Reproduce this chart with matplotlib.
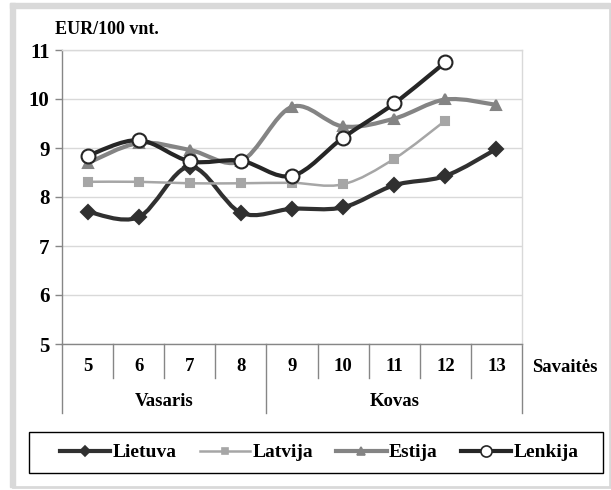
import numpy as np
import matplotlib.pyplot as plt
from matplotlib.path import Path
from matplotlib.patches import PathPatch, Rectangle
from matplotlib.lines import Line2D

plt.rcParams['font.family'] = 'Liberation Serif'
plt.rcParams['font.weight'] = 'bold'

# Duomenys
savaites = ['5', '6', '7', '8', '9', '10', '11', '12', '13']
menesiai = ['Vasaris', 'Kovas']
menesiu_centrai = [1.5, 6.0]
menesiu_ribos = [-0.5, 3.5, 8.5]

lietuva = [7.70, 7.59, 8.62, 7.68, 7.76, 7.79, 8.24, 8.43, 8.98]
latvija = [8.31, 8.31, 8.28, 8.28, 8.29, 8.26, 8.78, 9.56]
estija = [8.69, 9.10, 8.96, 8.73, 9.84, 9.44, 9.60, 9.99, 9.88]
lenkija = [8.84, 9.16, 8.73, 8.74, 8.43, 9.21, 9.91, 10.75]


def smooth_path(ys):
    # Excel-artige Glättung (Bezier, Catmull-Rom / 6)
    pts = np.column_stack([np.arange(len(ys)), ys]).astype(float)
    verts = [pts[0]]
    codes = [Path.MOVETO]
    n = len(pts)
    for i in range(n - 1):
        p0 = pts[i - 1] if i > 0 else pts[i]
        p1 = pts[i]
        p2 = pts[i + 1]
        p3 = pts[i + 2] if i + 2 < n else pts[i + 1]
        c1 = p1 + (p2 - p0) / 6.0
        c2 = p2 - (p3 - p1) / 6.0
        verts += [c1, c2, p2]
        codes += [Path.CURVE4] * 3
    return Path(verts, codes)


fig = plt.figure(figsize=(6.11, 4.90), dpi=100)

# Rahmen
fig.patches.append(Rectangle((13 / 611, 3 / 490), 597 / 611, 483 / 490,
                             transform=fig.transFigure, fill=False,
                             edgecolor='#d9d9d9', linewidth=2.0))
fig.patches.append(Rectangle((10 / 611, 3 / 490), 5 / 611, 484 / 490,
                             transform=fig.transFigure, color='#d9d9d9'))
fig.patches.append(Rectangle((10 / 611, 482 / 490), 600 / 611, 5 / 490,
                             transform=fig.transFigure, color='#d9d9d9'))
# Legendenrahmen
fig.patches.append(Rectangle((29 / 611, 17 / 490), 574 / 611, 41 / 490,
                             transform=fig.transFigure, fill=False,
                             edgecolor='black', linewidth=1.0))

ax = fig.add_axes([62 / 611, 146 / 490, 460 / 611, 294 / 490])

serien = [
    ('Lietuva', lietuva, '#303030', 3.0, 'D', 7, '#303030', '#303030'),
    ('Latvija', latvija, '#a6a6a6', 1.8, 's', 6, '#a6a6a6', '#a6a6a6'),
    ('Estija', estija, '#848484', 3.0, '^', 7, '#848484', '#848484'),
    ('Lenkija', lenkija, '#262626', 3.0, 'o', 10, 'white', '#262626'),
]

handles = []
for i, (name, ys, col, lw, mk, ms, mfc, mec) in enumerate(serien):
    ax.add_patch(PathPatch(smooth_path(ys), fill=False, edgecolor=col,
                           linewidth=lw, capstyle='round', joinstyle='round',
                           zorder=3 + i))
    ax.plot(range(len(ys)), ys, linestyle='none', marker=mk, markersize=ms,
            markerfacecolor=mfc, markeredgecolor=mec, markeredgewidth=1.5,
            zorder=3 + i)
    handles.append(Line2D([], [], color=col, linewidth=lw, marker=mk,
                          markersize=ms * 0.8, markerfacecolor=mfc,
                          markeredgecolor=mec, markeredgewidth=1.2, label=name))

ax.set_xlim(-0.5, 8.5)
ax.set_ylim(5, 11)
ax.set_yticks(range(5, 12))
ax.set_yticklabels([str(v) for v in range(5, 12)], fontsize=15, fontweight='bold')
ax.tick_params(axis='y', length=5, width=1, color='#868686', pad=4)
ax.set_xticks([])

ax.grid(axis='y', color='#d9d9d9', linewidth=1)
ax.set_axisbelow(True)
for side in ['top', 'right']:
    ax.spines[side].set_color('#d9d9d9')
for side in ['left', 'bottom']:
    ax.spines[side].set_color('#868686')
for s in ax.spines.values():
    s.set_linewidth(1)

# Kategorien-Beschriftung
tr = ax.get_xaxis_transform()
for i, lab in enumerate(savaites):
    ax.text(i, -0.078, lab, transform=tr, ha='center', va='center',
            fontsize=13.5, fontweight='bold')
for k in range(len(savaites) + 1):
    x = k - 0.5
    bottom = -0.235 if x in menesiu_ribos else -0.116
    ax.plot([x, x], [0, bottom], transform=tr, color='#868686', linewidth=1,
            clip_on=False)
for c, lab in zip(menesiu_centrai, menesiai):
    ax.text(c, -0.197, lab, transform=tr, ha='center', va='center',
            fontsize=13.5, fontweight='bold')

fig.text(532 / 611, 1 - 367 / 490, 'Savaitės', ha='left', va='center',
         fontsize=13.5, fontweight='bold')
fig.text(55 / 611, 1 - 29 / 490, 'EUR/100 vnt.', ha='left', va='center',
         fontsize=13, fontweight='bold')

leg = fig.legend(handles=handles, loc='center', ncol=4,
                 bbox_to_anchor=(319 / 611, 37.5 / 490),
                 frameon=False, handlelength=2.6, handletextpad=0.1,
                 borderaxespad=0, borderpad=0, columnspacing=1.2,
                 prop={'size': 14, 'weight': 'bold'})

fig.savefig('out.png', dpi=100)
